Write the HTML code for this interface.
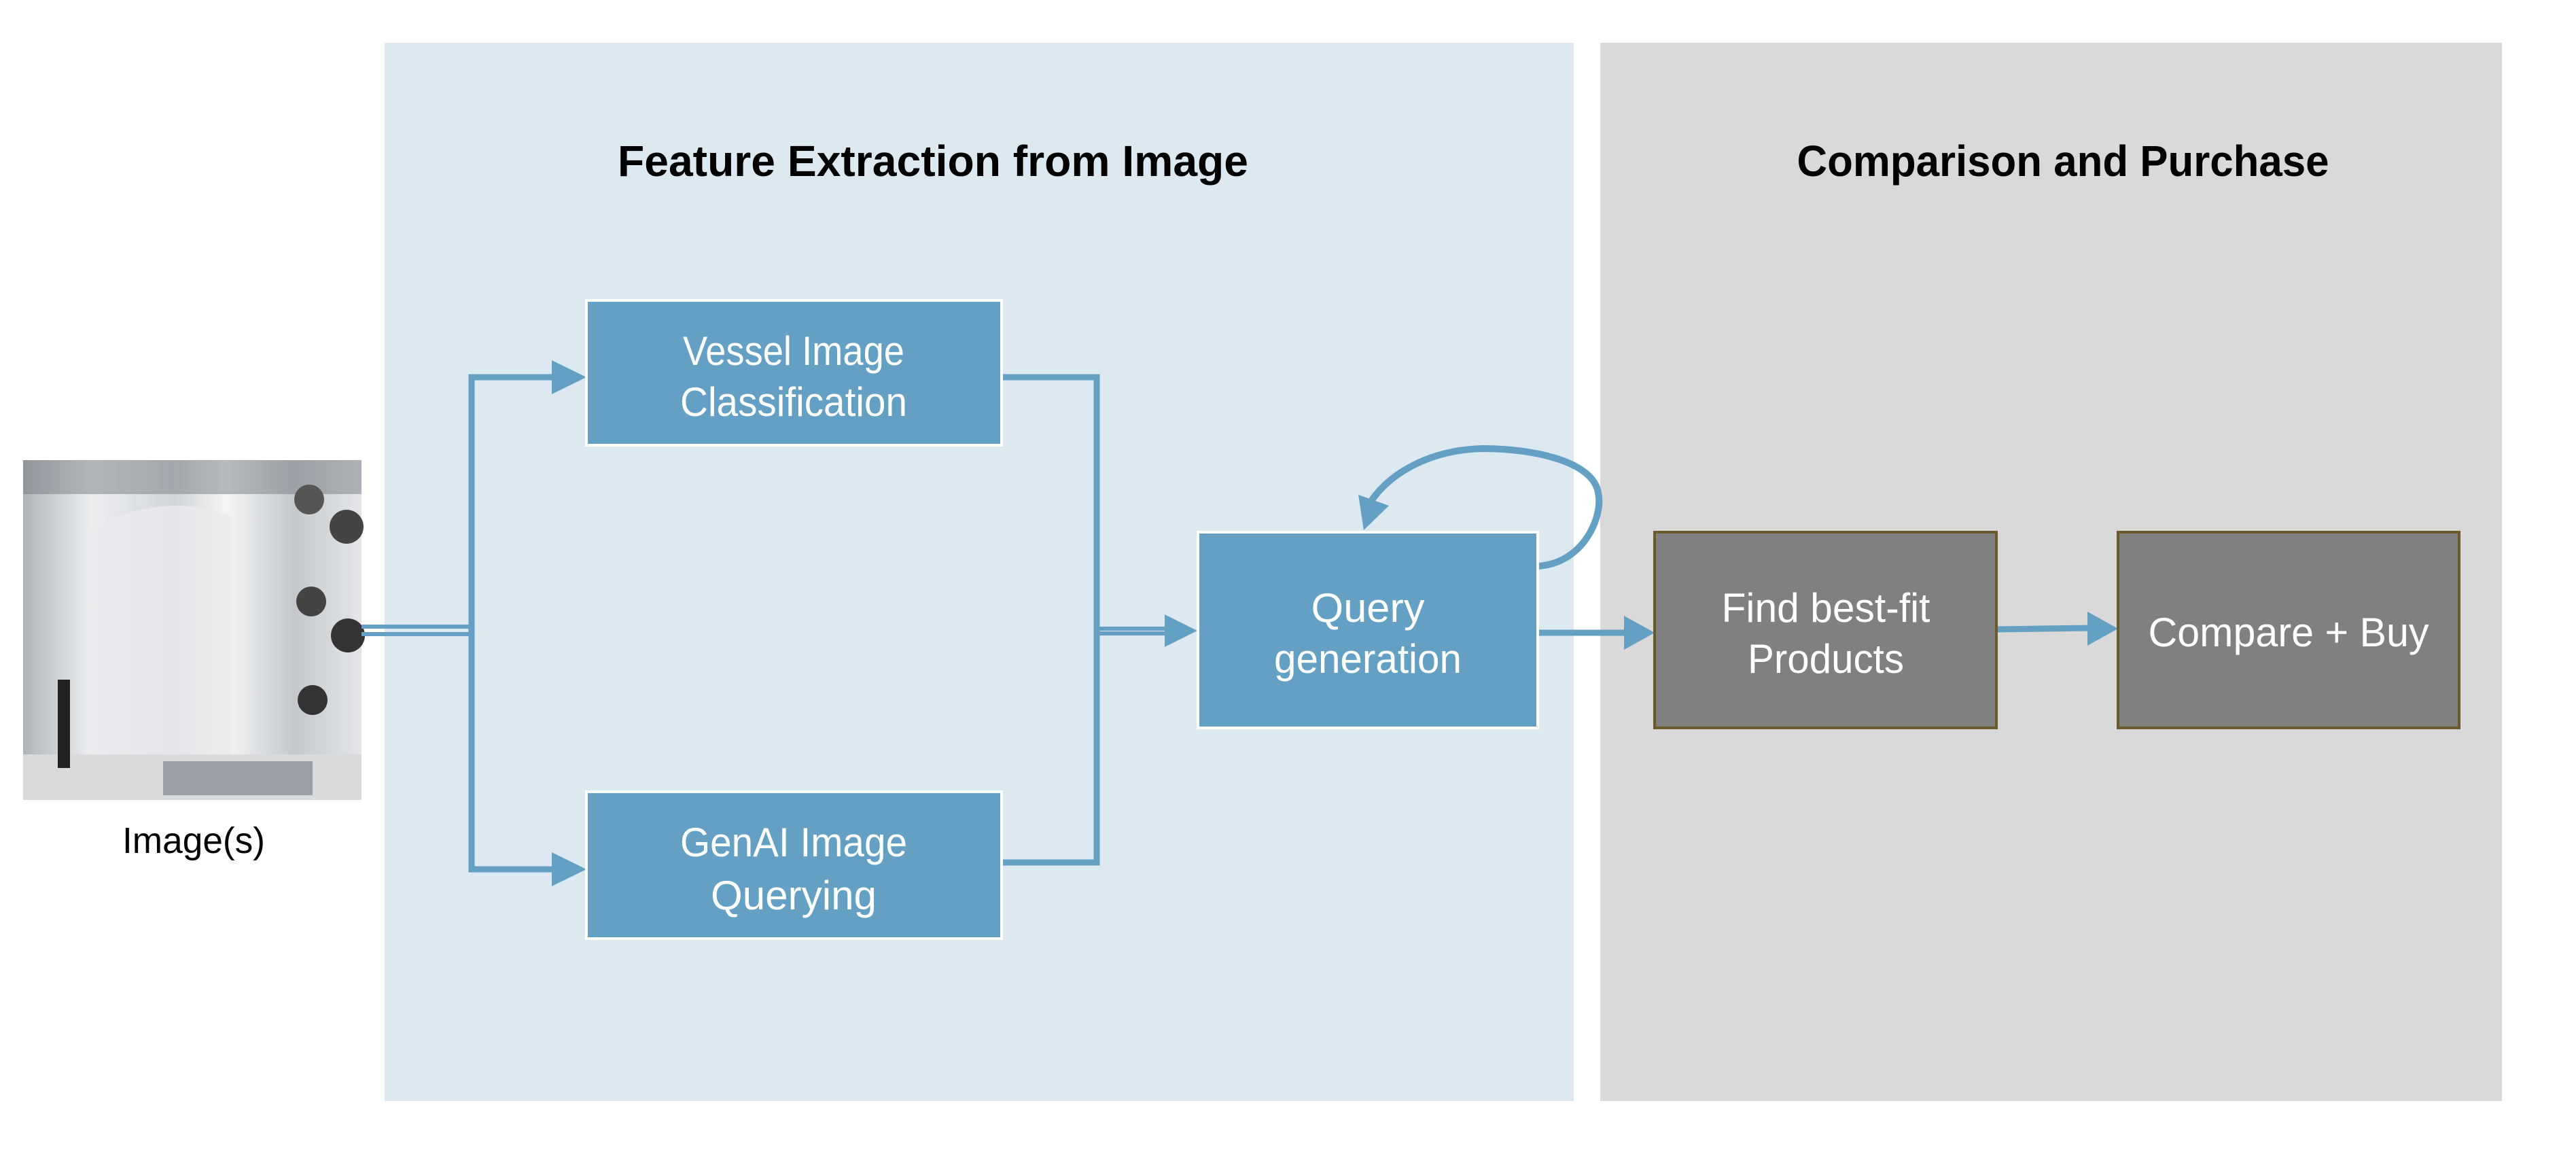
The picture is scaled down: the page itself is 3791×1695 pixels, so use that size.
<!DOCTYPE html>
<html><head><meta charset="utf-8"><style>
html,body{margin:0;padding:0;background:#fff;}
svg{display:block;}
text{font-family:"Liberation Sans",sans-serif;}
</style></head><body>
<svg width="3791" height="1695" viewBox="0 0 3791 1695" xmlns="http://www.w3.org/2000/svg">
<defs>
<linearGradient id="met" x1="0" y1="0" x2="1" y2="0">
<stop offset="0" stop-color="#b0b4b8"/><stop offset="0.2" stop-color="#eceef0"/><stop offset="0.45" stop-color="#d2d5d8"/><stop offset="0.6" stop-color="#f4f5f6"/><stop offset="0.8" stop-color="#c4c8cc"/><stop offset="1" stop-color="#e4e6e8"/>
</linearGradient>
</defs>
<rect width="3791" height="1695" fill="#fff"/>
<rect x="566" y="63" width="1750" height="1557" fill="#dce9f0"/>
<rect x="2355" y="63" width="1327" height="1557" fill="#d9d9d9"/>

<text x="1373" y="259" font-size="64" font-weight="bold" text-anchor="middle" textLength="928" lengthAdjust="spacingAndGlyphs">Feature Extraction from Image</text>
<text x="3036" y="259" font-size="64" font-weight="bold" text-anchor="middle" textLength="783" lengthAdjust="spacingAndGlyphs">Comparison and Purchase</text>

<!-- image -->
<rect x="34" y="677" width="498" height="500" fill="url(#met)"/>
<rect x="34" y="677" width="498" height="50" fill="#6b7177" opacity="0.45"/>
<rect x="34" y="1110" width="498" height="67" fill="#d8dadc"/>
<path d="M130,780 Q240,720 340,760 L340,1110 L130,1110 Z" fill="#e8eaec" opacity="0.8"/>
<circle cx="455" cy="735" r="22" fill="#555"/><circle cx="510" cy="775" r="25" fill="#444"/>
<circle cx="458" cy="885" r="22" fill="#444"/><circle cx="512" cy="935" r="25" fill="#333"/>
<circle cx="460" cy="1030" r="22" fill="#333"/>
<rect x="85" y="1000" width="18" height="130" fill="#222"/>
<rect x="240" y="1120" width="220" height="50" fill="#9aa0a6"/>

<text x="285" y="1255" font-size="54" text-anchor="middle" textLength="210" lengthAdjust="spacingAndGlyphs">Image(s)</text>

<!-- connectors -->
<g fill="none" stroke="#64a0c3">
<line x1="532" y1="922" x2="694" y2="922" stroke-width="6"/>
<line x1="532" y1="933" x2="694" y2="933" stroke-width="6"/>
<polyline points="816,555 694,555 694,1279 816,1279" stroke-width="9"/>
<polyline points="1476,555 1614,555 1614,1269 1476,1269" stroke-width="9"/>
<line x1="1614" y1="925" x2="1720" y2="925" stroke-width="6"/>
<line x1="1614" y1="932" x2="1720" y2="932" stroke-width="6"/>
<line x1="2265" y1="931" x2="2395" y2="931" stroke-width="9"/>
<line x1="2938" y1="926" x2="3077" y2="924" stroke-width="9"/>
<path d="M2262,833 C2330,830 2360,760 2352,725 C2345,680 2260,660 2182,660 C2100,662 2040,700 2015,742" stroke-width="10"/>
</g>
<g fill="#64a0c3">
<polygon points="812,530 863,555 812,580"/>
<polygon points="812,1254 863,1279 812,1304"/>
<polygon points="1714,904 1762,928 1714,952"/>
<polygon points="2390,906 2435,931 2390,956"/>
<polygon points="3072,900 3117,925 3072,950"/>
<polygon points="1999,728 2007,780 2044,744"/>
</g>

<!-- boxes -->
<g stroke="#fff" stroke-width="4" fill="#64a0c3">
<rect x="863" y="442" width="611" height="213"/>
<rect x="863" y="1165" width="611" height="216"/>
<rect x="1763" y="783" width="500" height="288"/>
</g>
<g stroke="#6b5a2a" stroke-width="4" fill="#808080">
<rect x="2435" y="783" width="503" height="288"/>
<rect x="3117" y="783" width="502" height="288"/>
</g>
<g fill="#fff" font-size="60" text-anchor="middle">
<text x="1168" y="537" textLength="326" lengthAdjust="spacingAndGlyphs">Vessel Image</text>
<text x="1168" y="612" textLength="334" lengthAdjust="spacingAndGlyphs">Classification</text>
<text x="1168" y="1260" textLength="334" lengthAdjust="spacingAndGlyphs">GenAI Image</text>
<text x="1168" y="1338" textLength="244" lengthAdjust="spacingAndGlyphs">Querying</text>
<text x="2013" y="915" textLength="167" lengthAdjust="spacingAndGlyphs">Query</text>
<text x="2013" y="990" textLength="276" lengthAdjust="spacingAndGlyphs">generation</text>
<text x="2687" y="915" textLength="307" lengthAdjust="spacingAndGlyphs">Find best-fit</text>
<text x="2687" y="990" textLength="230" lengthAdjust="spacingAndGlyphs">Products</text>
<text x="3368" y="951" textLength="413" lengthAdjust="spacingAndGlyphs">Compare + Buy</text>
</g>
</svg>
</body></html>
